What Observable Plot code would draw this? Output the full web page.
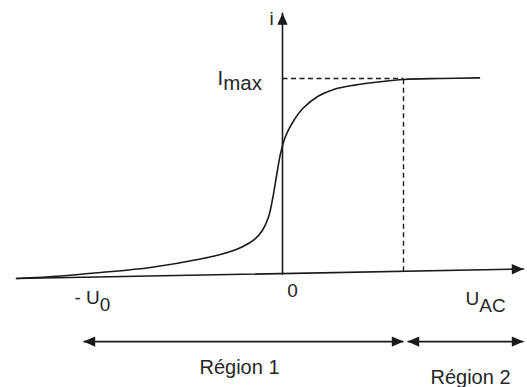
<!DOCTYPE html>
<html>
<head>
<meta charset="utf-8">
<script src="https://cdn.jsdelivr.net/npm/d3@7"></script>
<script src="https://cdn.jsdelivr.net/npm/@observablehq/plot@0.6"></script>
<style>
  html, body { margin: 0; padding: 0; background: #fff; }
  svg { display: block; }
</style>
</head>
<body>
<script>
// ---- Data (abstract units: U in arbitrary volts, i normalised so Imax = 1) ----
const curveU = [-6.65, -5.55, -4.55, -3.3, -2.05, -1.4, -1.0, -0.7, -0.5, -0.35, -0.25, -0.15, -0.05, 0.05, 0.15, 0.3, 0.5, 0.9, 1.3, 1.8, 2.4, 3.025, 3.95, 4.925];
const curveI = [-0.026, -0.013, 0.005, 0.031, 0.074, 0.106, 0.137, 0.175, 0.222, 0.290, 0.380, 0.500, 0.615, 0.690, 0.737, 0.790, 0.845, 0.910, 0.945, 0.966, 0.982, 0.995, 1.0, 1.003];

const hAxisU = [-6.65, 6.025];
const hAxisI = [-0.026, 0.023];
const vAxisU = [0, 0];
const vAxisI = [-0.003, 1.335];

const imaxU = 3.025;
const imaxI = 1.0;

const regionNames = ["Région 1", "Région 2"];
const regionStart = [-4.975, 3.125];
const regionEnd = [3.025, 6.025];
const regionArrowI = -0.349;
const regionLabelU = [-1.075, 4.7];
const regionLabelI = [-0.513, -0.569];

// axis labels: main text, subscript, U, i
const imaxLabel = [{main: "I", sub: "max", u: -1.625, i: 0.969}];
const startLabels = [
  {main: "- U", sub: "0", u: -5.2, i: -0.154},
  {main: "U", sub: "AC", u: 4.575, i: -0.159}
];
const middleLabels = [
  {main: "i", sub: "", u: -0.275, i: 1.272},
  {main: "0", sub: "", u: 0.25, i: -0.123}
];

// ---- Derived tables ----
const curve = curveU.map((u, k) => ({u, i: curveI[k]}));
const hAxis = hAxisU.map((u, k) => ({u, i: hAxisI[k]}));
const vAxis = vAxisU.map((u, k) => ({u, i: vAxisI[k]}));
const axisAtImax = hAxisI[0] + (imaxU - hAxisU[0]) / (hAxisU[1] - hAxisU[0]) * (hAxisI[1] - hAxisI[0]);
const regions = regionNames.map((name, k) => ({name, u1: regionStart[k], u2: regionEnd[k], lu: regionLabelU[k], li: regionLabelI[k]}));
const labels = [...imaxLabel, ...startLabels, ...middleLabels];

// arrow heads: tip at origin, pointing up
const arrowHead = {
  draw(context, size) {
    const r = Math.sqrt(size / Math.PI);
    const h = 2.6 * r, w = 1.15 * r;
    context.moveTo(0, 0);
    context.lineTo(w, h);
    context.lineTo(-w, h);
    context.closePath();
  }
};

const ink = "#1a1a1a";
const textInk = "#262626";

const xDomain = [-7.05, 6.125];
const yDomain = [-0.58462, 1.4];
const px = u => (u - xDomain[0]) / (xDomain[1] - xDomain[0]) * 527;
const py = i => 387 - (i - yDomain[0]) / (yDomain[1] - yDomain[0]) * 387;
const tilt = Math.atan2(py(hAxisI[0]) - py(hAxisI[1]), px(hAxisU[1]) - px(hAxisU[0])) * 180 / Math.PI;

const heads = [
  {u: vAxisU[1], i: vAxisI[1], rot: 0},
  {u: hAxisU[1], i: hAxisI[1], rot: 90 - tilt},
  ...regions.flatMap(r => [{u: r.u1, i: regionArrowI, rot: -90}, {u: r.u2, i: regionArrowI, rot: 90}])
];

const svg = Plot.plot({
  width: 527,
  height: 387,
  margin: 0,
  x: {domain: xDomain, axis: null},
  y: {domain: yDomain, axis: null},
  style: {background: "#fff", fontFamily: "'Liberation Sans', Arial, sans-serif"},
  marks: [
    // dashed guides to Imax
    Plot.link([{}], {x1: 0, x2: imaxU, y1: imaxI, y2: imaxI, stroke: ink, strokeWidth: 1.4, strokeDasharray: "5,3.5"}),
    Plot.link([{}], {x1: imaxU, x2: imaxU, y1: axisAtImax, y2: imaxI, stroke: ink, strokeWidth: 1.4, strokeDasharray: "5,3.5"}),
    // axes
    Plot.line(hAxis, {x: "u", y: "i", stroke: ink, strokeWidth: 1.6}),
    Plot.line(vAxis, {x: "u", y: "i", stroke: ink, strokeWidth: 1.6}),
    // characteristic curve
    Plot.line(curve, {x: "u", y: "i", curve: "catmull-rom", stroke: ink, strokeWidth: 1.6}),
    // region arrows
    Plot.link(regions, {x1: "u1", x2: "u2", y1: regionArrowI, y2: regionArrowI, stroke: ink, strokeWidth: 1.8}),
    // arrow heads
    Plot.dot(heads, {x: "u", y: "i", rotate: "rot", symbol: arrowHead, r: 4.5, fill: ink, stroke: "none"}),
    // labels
    Plot.text(imaxLabel, {x: "u", y: "i", text: d => d.main + d.sub, textAnchor: "start", lineAnchor: "bottom", fontSize: 20.5, fill: textInk}),
    Plot.text(startLabels, {x: "u", y: "i", text: d => d.main + d.sub, textAnchor: "start", lineAnchor: "bottom", fontSize: 19, fill: textInk}),
    Plot.text(middleLabels, {x: "u", y: "i", text: d => d.main + d.sub, textAnchor: "middle", lineAnchor: "bottom", fontSize: 19, fill: textInk}),
    Plot.text(regions, {x: "lu", y: "li", text: "name", textAnchor: "middle", lineAnchor: "bottom", fontSize: 20, fill: textInk})
  ]
});

// turn label suffixes into real subscripts
d3.select(svg).selectAll("text").each(function () {
  const t = this.textContent;
  const lab = labels.find(l => l.sub && l.main + l.sub === t);
  if (lab) {
    const sel = d3.select(this);
    sel.text(null);
    sel.append("tspan").text(lab.main);
    sel.append("tspan").attr("dy", lab.main === "I" ? "0.25em" : "0.4em").text(lab.sub);
  }
});

document.body.appendChild(svg);
</script>
</body>
</html>
